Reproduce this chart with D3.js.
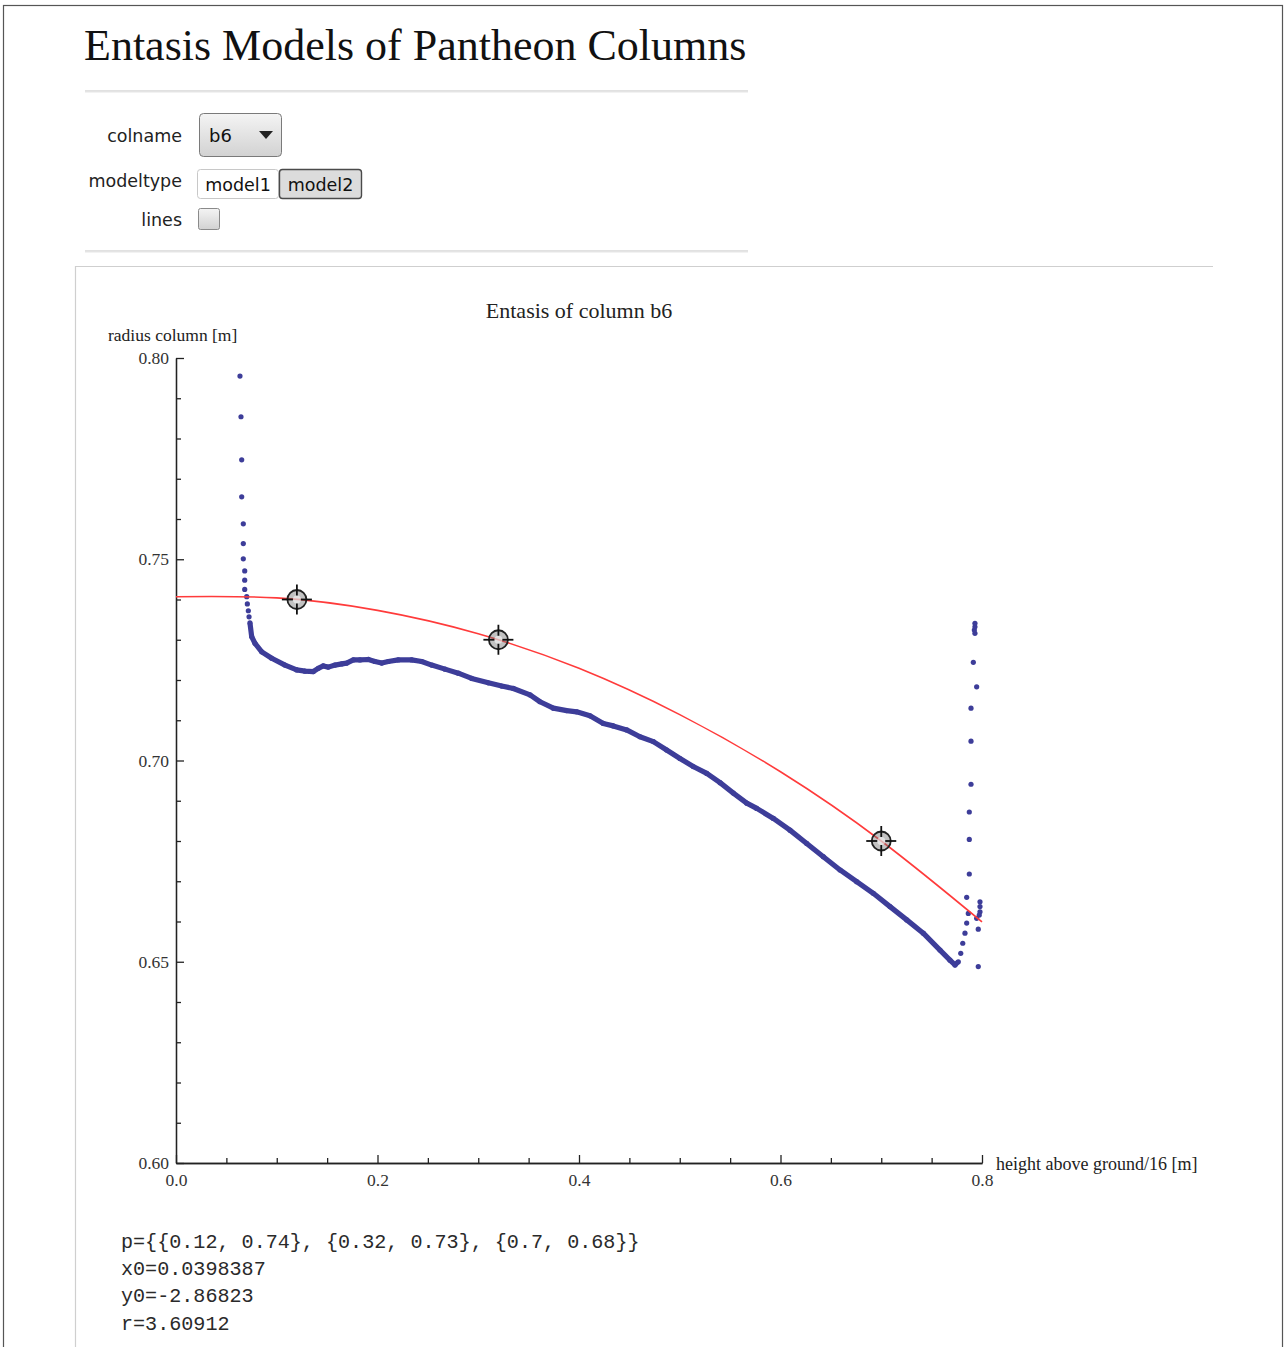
<!DOCTYPE html>
<html>
<head>
<meta charset="utf-8">
<title>Entasis Models of Pantheon Columns</title>
<script src="https://cdn.jsdelivr.net/npm/d3@7"></script>
<style>
  body { margin: 0; background: #fff; }
  svg { display: block; }
</style>
</head>
<body>
<svg id="page"></svg>
<script>
// ---- data ----
const columnName = "b6";
const modelTypes = ["model1", "model2"];
const selectedModel = "model2";

// dense measured profile (height/16, radius)
const profileX = [0.0734, 0.0751, 0.0784, 0.0851, 0.0950, 0.1082, 0.1198, 0.1280, 0.1363, 0.1412,
  0.1462, 0.1512, 0.1578, 0.1645, 0.1694, 0.1760, 0.1826, 0.1909, 0.1975, 0.2042,
  0.2107, 0.2206, 0.2339, 0.2439, 0.2538, 0.2670, 0.2802, 0.2935, 0.3100, 0.3233,
  0.3348, 0.3514, 0.3613, 0.3745, 0.3878, 0.3977, 0.4109, 0.4241, 0.4340, 0.4473,
  0.4605, 0.4738, 0.4870, 0.5002, 0.5134, 0.5268, 0.5400, 0.5532, 0.5665, 0.5764,
  0.5929, 0.6094, 0.6260, 0.6425, 0.6591, 0.6756, 0.6921, 0.7087, 0.7253, 0.7417,
  0.7583, 0.7682, 0.7732, 0.7765];
const profileY = [0.7342, 0.7308, 0.7291, 0.7270, 0.7254, 0.7237, 0.7225, 0.7222, 0.7221, 0.7229,
  0.7235, 0.7232, 0.7237, 0.7240, 0.7242, 0.7250, 0.7250, 0.7251, 0.7246, 0.7242,
  0.7246, 0.7250, 0.7250, 0.7246, 0.7237, 0.7227, 0.7217, 0.7204, 0.7193, 0.7185,
  0.7179, 0.7163, 0.7146, 0.7130, 0.7124, 0.7121, 0.7111, 0.7092, 0.7086, 0.7076,
  0.7059, 0.7047, 0.7026, 0.7005, 0.6985, 0.6968, 0.6945, 0.6919, 0.6894, 0.6881,
  0.6856, 0.6827, 0.6794, 0.6761, 0.6728, 0.6699, 0.6670, 0.6637, 0.6604, 0.6571,
  0.6529, 0.6504, 0.6492, 0.6500];

// isolated measured points (capital and base ends)
const scatterX = [0.0635, 0.0645, 0.0652, 0.0652, 0.0668, 0.0668, 0.0668, 0.0682, 0.0682, 0.0682,
  0.0702, 0.0708, 0.0718, 0.0725,
  0.7789, 0.7809, 0.7831, 0.7848, 0.7864, 0.7848, 0.7874, 0.7874, 0.7874, 0.7891,
  0.7891, 0.7891, 0.7947, 0.7914, 0.7930, 0.7924, 0.7930, 0.7930,
  0.7980, 0.7980, 0.7980, 0.7973, 0.7947, 0.7963, 0.7963];
const scatterY = [0.7955, 0.7854, 0.7747, 0.7655, 0.7588, 0.7539, 0.7501, 0.7471, 0.7448, 0.7425,
  0.7407, 0.7389, 0.7372, 0.7357,
  0.6521, 0.6546, 0.6571, 0.6596, 0.6620, 0.6660, 0.6718, 0.6804, 0.6872, 0.6941,
  0.7048, 0.7130, 0.7183, 0.7244, 0.7316, 0.7324, 0.7332, 0.7341,
  0.6649, 0.6637, 0.6624, 0.6616, 0.6608, 0.6581, 0.6488];

// model2 circle arc, read at 0.1 steps
const fitX = [0.0, 0.1, 0.2, 0.3, 0.4, 0.5, 0.6, 0.7, 0.8];
const fitY = [0.7407, 0.7404, 0.7373, 0.7315, 0.7229, 0.7114, 0.6972, 0.6800, 0.6599];

// locator points p
const locatorX = [0.12, 0.32, 0.7];
const locatorY = [0.74, 0.73, 0.68];

const fitParams = ["x0=0.0398387", "y0=-2.86823", "r=3.60912"];

const xMajorTicks = [0.0, 0.2, 0.4, 0.6, 0.8];
const xMinorTicks = [0.05, 0.1, 0.15, 0.25, 0.3, 0.35, 0.45, 0.5, 0.55, 0.65, 0.7, 0.75];
const yMajorTicks = [0.60, 0.65, 0.70, 0.75, 0.80];
const yMinorTicks = [0.61, 0.62, 0.63, 0.64, 0.66, 0.67, 0.68, 0.69, 0.71, 0.72, 0.73, 0.74,
  0.76, 0.77, 0.78, 0.79];

class EntasisPlot {

  constructor(_config) {
    this.config = {
      parentElement: _config.parentElement,
      x0: _config.x0 || 176,
      y0: _config.y0 || 1163,
      width: _config.width || 806,
      height: _config.height || 805
    };
    this.initVis();
  }

  initVis() {
    let vis = this;
    vis.svg = d3.select(vis.config.parentElement);

    vis.xScale = d3.scaleLinear()
        .domain([0, 0.8])
        .range([vis.config.x0, vis.config.x0 + vis.config.width]);
    vis.yScale = d3.scaleLinear()
        .domain([0.6, 0.8])
        .range([vis.config.y0, vis.config.y0 - vis.config.height]);

    vis.chart = vis.svg.append('g').attr('class', 'plot');

    // title + axis labels
    vis.chart.append('text')
        .attr('x', 579).attr('y', 318)
        .attr('text-anchor', 'middle')
        .attr('font-family', 'Liberation Serif, serif')
        .attr('font-size', '22px')
        .attr('fill', '#222')
        .text(`Entasis of column ${columnName}`);

    vis.chart.append('text')
        .attr('x', 108).attr('y', 341)
        .attr('font-family', 'Liberation Serif, serif')
        .attr('font-size', '17.5px')
        .attr('fill', '#222')
        .text('radius column [m]');

    vis.chart.append('text')
        .attr('x', 996).attr('y', 1170)
        .attr('font-family', 'Liberation Serif, serif')
        .attr('font-size', '18px')
        .attr('fill', '#222')
        .text('height above ground/16 [m]');

    // axes: ticks point into the plot
    vis.xAxis = d3.axisBottom(vis.xScale)
        .tickValues(xMajorTicks)
        .tickSizeInner(-8).tickSizeOuter(0).tickPadding(11)
        .tickFormat(d3.format('.1f'));
    vis.xMinor = d3.axisBottom(vis.xScale)
        .tickValues(xMinorTicks)
        .tickSizeInner(-5).tickSizeOuter(0)
        .tickFormat('');
    vis.yAxis = d3.axisLeft(vis.yScale)
        .tickValues(yMajorTicks)
        .tickSizeInner(-8).tickSizeOuter(0).tickPadding(7)
        .tickFormat(d3.format('.2f'));
    vis.yMinor = d3.axisLeft(vis.yScale)
        .tickValues(yMinorTicks)
        .tickSizeInner(-5).tickSizeOuter(0)
        .tickFormat('');

    vis.chart.append('g').attr('class', 'axis x-minor')
        .attr('transform', `translate(0,${vis.config.y0})`).call(vis.xMinor);
    vis.chart.append('g').attr('class', 'axis x-axis')
        .attr('transform', `translate(0,${vis.config.y0})`).call(vis.xAxis);
    vis.chart.append('g').attr('class', 'axis y-minor')
        .attr('transform', `translate(${vis.config.x0},0)`).call(vis.yMinor);
    vis.chart.append('g').attr('class', 'axis y-axis')
        .attr('transform', `translate(${vis.config.x0},0)`).call(vis.yAxis);

    vis.chart.selectAll('.axis path, .axis line')
        .attr('stroke', '#222').attr('stroke-width', 1.3);
    vis.chart.selectAll('.axis text')
        .attr('font-family', 'Liberation Serif, serif')
        .attr('font-size', '17.5px')
        .attr('fill', '#333');

    vis.updateVis();
  }

  updateVis() {
    let vis = this;
    const blue = '#3d3d99';

    const profile = profileX.map((x, i) => ({x: x, y: profileY[i]}));
    const scatter = scatterX.map((x, i) => ({x: x, y: scatterY[i]}));
    const fit = fitX.map((x, i) => ({x: x, y: fitY[i]}));
    const locators = locatorX.map((x, i) => ({x: x, y: locatorY[i]}));

    const line = d3.line()
        .x(d => vis.xScale(d.x))
        .y(d => vis.yScale(d.y));

    // dense measurement band
    vis.chart.append('path')
        .datum(profile)
        .attr('d', line)
        .attr('fill', 'none')
        .attr('stroke', blue)
        .attr('stroke-width', 5.2)
        .attr('stroke-linejoin', 'round');

    vis.chart.selectAll('circle.pt')
        .data(profile.concat(scatter))
        .join('circle')
          .attr('class', 'pt')
          .attr('cx', d => vis.xScale(d.x))
          .attr('cy', d => vis.yScale(d.y))
          .attr('r', 2.6)
          .attr('fill', blue);

    // model curve
    vis.chart.append('path')
        .datum(fit)
        .attr('d', line.curve(d3.curveNatural))
        .attr('fill', 'none')
        .attr('stroke', '#ff3b3b')
        .attr('stroke-width', 1.6);

    // locators
    const loc = vis.chart.selectAll('g.locator')
        .data(locators)
        .join('g')
          .attr('class', 'locator')
          .attr('transform', d => `translate(${vis.xScale(d.x)},${vis.yScale(d.y)})`);
    loc.append('circle')
        .attr('r', 9.5)
        .attr('fill', 'rgba(120,120,120,0.45)')
        .attr('stroke', '#222')
        .attr('stroke-width', 1.8);
    loc.append('circle')
        .attr('r', 4)
        .attr('fill', 'rgba(255,255,255,0.55)');
    const arms = [[0, -15, 0, -4], [0, 4, 0, 15], [-15, 0, -4, 0], [4, 0, 15, 0]];
    arms.forEach(a => {
      loc.append('line')
          .attr('x1', a[0]).attr('y1', a[1]).attr('x2', a[2]).attr('y2', a[3])
          .attr('stroke', '#111').attr('stroke-width', 1.8);
    });

    // printed results below the plot
    const pText = 'p={' + locators.map(d => `{${d.x}, ${d.y}}`).join(', ') + '}';
    vis.svg.append('g')
        .selectAll('text')
        .data([pText].concat(fitParams))
        .join('text')
          .attr('x', 121)
          .attr('y', (d, i) => 1248 + i * 27.2)
          .attr('font-family', 'Liberation Mono, monospace')
          .attr('font-size', '20.1px')
          .attr('fill', '#2a2a2a')
          .text(d => d);
  }
}

// ---- page frame and controls ----
const svg = d3.select('#page').attr('width', 1285).attr('height', 1347);

const defs = svg.append('defs');
const grad = defs.append('linearGradient').attr('id', 'btn').attr('x1', 0).attr('y1', 0).attr('x2', 0).attr('y2', 1);
grad.append('stop').attr('offset', '0%').attr('stop-color', '#f4f4f4');
grad.append('stop').attr('offset', '100%').attr('stop-color', '#d2d2d2');

svg.append('rect').attr('x', 3.5).attr('y', 5.5).attr('width', 1279).attr('height', 1350)
    .attr('fill', 'none').attr('stroke', '#555').attr('stroke-width', 1.2);

svg.append('text')
    .attr('x', 84).attr('y', 60)
    .attr('font-family', 'Liberation Serif, serif')
    .attr('font-size', '44px')
    .attr('fill', '#111')
    .text('Entasis Models of Pantheon Columns');

[91, 251].forEach(y => {
  svg.append('line').attr('x1', 85).attr('x2', 748).attr('y1', y).attr('y2', y)
      .attr('stroke', '#c4c4c4').attr('stroke-width', 1.2);
  svg.append('line').attr('x1', 85).attr('x2', 748).attr('y1', y + 1.2).attr('y2', y + 1.2)
      .attr('stroke', '#ececec').attr('stroke-width', 1);
});

const uiFont = 'DejaVu Sans, sans-serif';
const labels = [['colname', 142], ['modeltype', 187], ['lines', 226]];
svg.selectAll('text.ctl')
    .data(labels)
    .join('text')
      .attr('class', 'ctl')
      .attr('x', 182).attr('y', d => d[1])
      .attr('text-anchor', 'end')
      .attr('font-family', uiFont).attr('font-size', '17.5px').attr('fill', '#222')
      .text(d => d[0]);

// popup menu
svg.append('rect').attr('x', 199.5).attr('y', 113.5).attr('width', 82).attr('height', 43).attr('rx', 4)
    .attr('fill', 'url(#btn)').attr('stroke', '#7a7a7a');
svg.append('text').attr('x', 209).attr('y', 142)
    .attr('font-family', uiFont).attr('font-size', '18px').attr('fill', '#111').text(columnName);
svg.append('path').attr('d', 'M259,131 L273,131 L266,139 Z').attr('fill', '#222');

// setter bar
const btnX = [197.5, 279.5], btnW = [81, 82];
modelTypes.forEach((m, i) => {
  const sel = m === selectedModel;
  svg.append('rect').attr('x', btnX[i]).attr('y', 169.5).attr('width', btnW[i]).attr('height', 29).attr('rx', 3)
      .attr('fill', sel ? '#dcdcdc' : '#fff')
      .attr('stroke', sel ? '#4a4a4a' : '#c8c8c8').attr('stroke-width', sel ? 1.4 : 1);
  svg.append('text').attr('x', btnX[i] + btnW[i] / 2).attr('y', 191)
      .attr('text-anchor', 'middle')
      .attr('font-family', uiFont).attr('font-size', '17.5px').attr('fill', '#111').text(m);
});

// checkbox
svg.append('rect').attr('x', 198.5).attr('y', 208.5).attr('width', 21).attr('height', 21).attr('rx', 2)
    .attr('fill', 'url(#btn)').attr('stroke', '#8a8a8a');

// plot panel border
svg.append('path').attr('d', 'M75.5,1347 L75.5,266.5 L1213,266.5')
    .attr('fill', 'none').attr('stroke', '#cfcfcf').attr('stroke-width', 1.2);

let plot = new EntasisPlot({parentElement: '#page'});
</script>
</body>
</html>
